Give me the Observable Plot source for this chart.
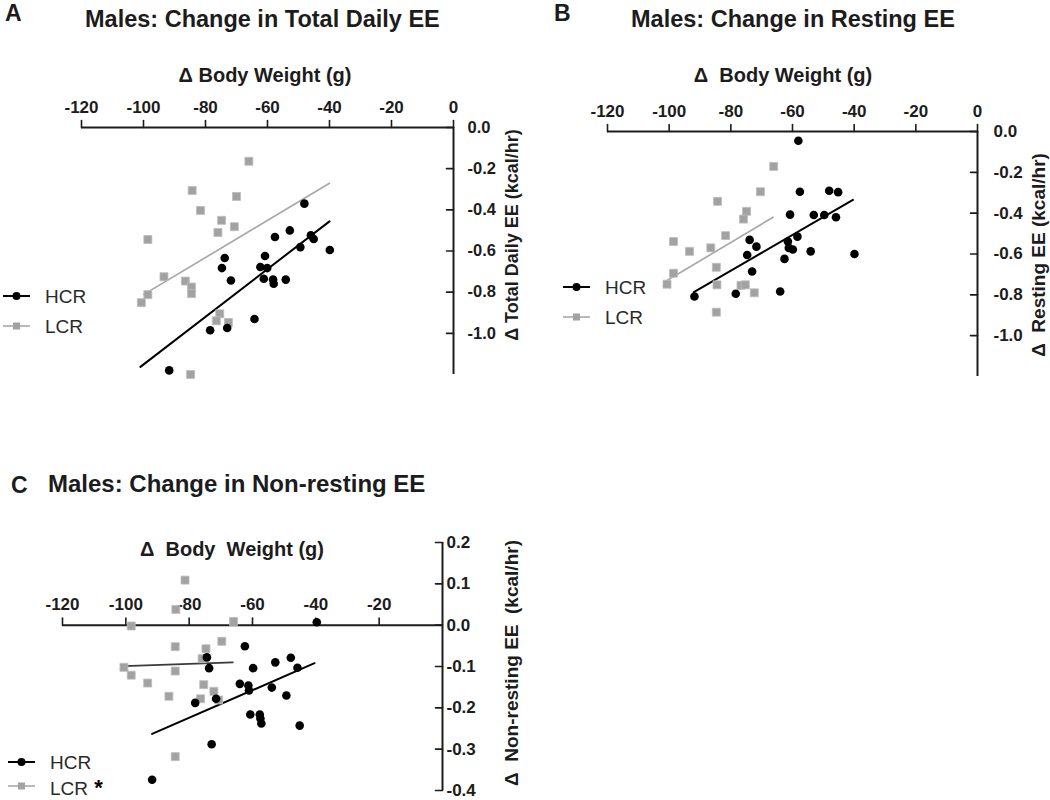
<!DOCTYPE html>
<html><head><meta charset="utf-8">
<script src="https://cdn.jsdelivr.net/npm/d3@7"></script>
<script src="https://cdn.jsdelivr.net/npm/@observablehq/plot@0.6"></script>
<style>
body{margin:0;background:#fff;}
#root{position:relative;width:1050px;height:800px;overflow:hidden;font-family:"Liberation Sans",Arial,sans-serif;color:#1a1a1a;}
.abs{position:absolute;white-space:pre;line-height:1;}
.plot{position:absolute;}
</style></head><body><div id="root"></div>
<script>
// ---------- data ----------
const groups = ["HCR", "LCR"];
const xTicks = [-120, -100, -80, -60, -40, -20, 0];
const xTicksC = [-120, -100, -80, -60, -40, -20];
const yTicksAB = [0, -0.2, -0.4, -0.6, -0.8, -1.0];
const yTicksC = [0.2, 0.1, 0, -0.1, -0.2, -0.3, -0.4];

// Panel A: change in total daily EE
const aHcrX = [-48.1,-52.8,-57.6,-46.0,-45.1,-49.4,-39.9,-73.8,-60.8,-74.7,-62.3,-60.1,-71.8,-61.2,-58.2,-58.0,-54.1,-64.2,-78.5,-73.0,-91.7];
const aHcrY = [-0.370,-0.500,-0.532,-0.524,-0.542,-0.581,-0.595,-0.634,-0.624,-0.683,-0.678,-0.683,-0.743,-0.735,-0.739,-0.759,-0.739,-0.930,-0.985,-0.974,-1.180];
const aLcrX = [-66.0,-84.3,-70.0,-81.6,-74.8,-70.7,-76.0,-98.6,-93.4,-86.5,-84.5,-84.5,-98.6,-100.7,-75.4,-76.5,-72.6,-84.8];
const aLcrY = [-0.164,-0.306,-0.335,-0.403,-0.451,-0.482,-0.510,-0.544,-0.725,-0.746,-0.775,-0.807,-0.812,-0.851,-0.905,-0.939,-0.947,-1.200];
const aHcrFitX = [-101.0, -40.0];
const aHcrFitY = [-1.163, -0.456];
const aLcrFitX = [-100.0, -40.0];
const aLcrFitY = [-0.812, -0.271];

// Panel B: change in resting EE
const bHcrX = [-58.1,-57.6,-48.1,-45.2,-60.8,-53.1,-49.7,-45.9,-58.4,-73.9,-71.7,-61.5,-61.2,-59.9,-54.1,-39.9,-74.7,-62.6,-73.1,-64.0,-78.4,-91.8];
const bHcrY = [-0.045,-0.295,-0.290,-0.297,-0.407,-0.409,-0.409,-0.420,-0.515,-0.531,-0.564,-0.539,-0.570,-0.578,-0.587,-0.600,-0.605,-0.624,-0.686,-0.784,-0.795,-0.808];
const bLcrX = [-66.1,-70.4,-84.3,-74.9,-75.9,-81.7,-98.6,-93.4,-86.5,-84.7,-98.6,-100.7,-84.5,-76.7,-75.3,-72.4,-84.7];
const bLcrY = [-0.171,-0.295,-0.342,-0.391,-0.429,-0.510,-0.539,-0.587,-0.570,-0.665,-0.694,-0.748,-0.751,-0.754,-0.751,-0.790,-0.885];
const bHcrFitX = [-92.0, -40.4];
const bHcrFitY = [-0.787, -0.335];
const bLcrFitX = [-100.7, -66.3];
const bLcrFitY = [-0.730, -0.420];

// Panel C: change in non-resting EE
const cHcrX = [-39.7,-62.4,-47.9,-52.8,-45.8,-74.4,-73.7,-59.8,-64.0,-61.3,-61.1,-53.9,-49.3,-78.1,-71.5,-60.7,-57.7,-57.5,-57.2,-45.1,-72.9,-91.7];
const cHcrY = [0.007,-0.051,-0.079,-0.090,-0.103,-0.078,-0.104,-0.104,-0.142,-0.146,-0.158,-0.151,-0.170,-0.188,-0.178,-0.216,-0.216,-0.226,-0.238,-0.243,-0.288,-0.374];
const cLcrX = [-81.3,-84.2,-98.3,-66.0,-69.7,-84.4,-74.7,-75.9,-100.6,-98.3,-84.4,-93.1,-75.4,-72.2,-86.4,-76.4,-70.7,-84.4];
const cLcrY = [0.109,0.038,-0.002,0.009,-0.039,-0.052,-0.057,-0.081,-0.102,-0.121,-0.111,-0.140,-0.144,-0.160,-0.172,-0.178,-0.181,-0.318];
const cHcrFitX = [-91.7, -40.4];
const cHcrFitY = [-0.263, -0.092];
const cLcrFitX = [-100.6, -66.2];
const cLcrFitY = [-0.099, -0.090];

// ---------- styling ----------
const ink = "#1c1c1c";
const hcrColor = "#000000";
const lcrColor = "#a2a2a2";
const font = '"Liberation Sans", Arial, sans-serif';
const tickShape = {draw(context, l) { context.moveTo(0, 0); context.lineTo(0, -l); }};

function zip(xs, ys, group) { return xs.map((x, i) => ({x, y: ys[i], group})); }

function panel(cfg) {
  const hcr = zip(cfg.hx, cfg.hy, groups[0]);
  const lcr = zip(cfg.lx, cfg.ly, groups[1]);
  const hFit = zip(cfg.fhx, cfg.fhy, groups[0]);
  const lFit = zip(cfg.flx, cfg.fly, groups[1]);
  return Plot.plot({
    width: cfg.w, height: cfg.h,
    marginLeft: cfg.ml, marginRight: cfg.mr, marginTop: cfg.mt, marginBottom: cfg.mb,
    x: {domain: [-120, 0], axis: null},
    y: {domain: cfg.yDomain, axis: null},
    style: {background: "transparent", overflow: "visible", fontFamily: font, color: ink},
    marks: [
      Plot.ruleY([0], {stroke: ink, strokeWidth: 2}),
      Plot.ruleX([0], {stroke: ink, strokeWidth: 2}),
      Plot.vector(cfg.xTicks, {x: d => d, y: 0, length: 7, rotate: 0, anchor: "start", shape: tickShape, stroke: ink, strokeWidth: 1.6}),
      Plot.vector(cfg.yTicks, {x: 0, y: d => d, length: 7, rotate: -90, anchor: "start", shape: tickShape, stroke: ink, strokeWidth: 1.6}),
      Plot.text(cfg.xTicks, {x: d => d, y: 0, text: d => String(d), lineAnchor: "bottom", dy: cfg.xDy, fontSize: 17, fontWeight: "bold", fill: ink}),
      Plot.text(cfg.yTicks, {x: 0, y: d => d, text: d => d.toFixed(1), textAnchor: "start", lineAnchor: "middle", dx: cfg.yDx, fontSize: cfg.yFs, fontWeight: "bold", fill: ink}),
      Plot.line(lFit, {x: "x", y: "y", stroke: cfg.lcrLine, strokeWidth: 1.7}),
      Plot.line(hFit, {x: "x", y: "y", stroke: hcrColor, strokeWidth: 2}),
      Plot.dot(lcr, {x: "x", y: "y", symbol: "square", r: 4.5, fill: lcrColor, stroke: "#bdbdbd", strokeWidth: 0.8}),
      Plot.dot(hcr, {x: "x", y: "y", r: 4.3, fill: hcrColor, stroke: "none"})
    ]
  });
}

const root = document.getElementById("root");
function place(node, left, top) {
  const d = document.createElement("div");
  d.className = "plot"; d.style.left = left + "px"; d.style.top = top + "px";
  d.appendChild(node); root.appendChild(d);
}
function label(text, left, baseline, size, opts = {}) {
  const d = document.createElement("div");
  d.className = "abs";
  d.textContent = text;
  d.style.fontSize = size + "px";
  d.style.fontWeight = opts.weight || "bold";
  d.style.color = opts.color || ink;
  d.style.left = left + "px";
  d.style.top = (baseline - 0.846 * size) + "px";
  if (opts.center) d.style.transform = "translateX(-50%)";
  root.appendChild(d);
  return d;
}
function vlabel(text, cx, cy, size) {
  const d = document.createElement("div");
  d.className = "abs";
  d.textContent = text;
  d.style.fontSize = size + "px";
  d.style.fontWeight = "bold";
  d.style.color = ink;
  d.style.left = cx + "px";
  d.style.top = cy + "px";
  d.style.transform = "translate(-50%,-50%) rotate(-90deg)";
  root.appendChild(d);
}
function legend(left, textLeft, cy, group, suffix) {
  const isH = group === groups[0];
  const ns = "http://www.w3.org/2000/svg";
  const s = document.createElementNS(ns, "svg");
  s.setAttribute("width", 30); s.setAttribute("height", 14);
  s.style.position = "absolute"; s.style.left = left + "px"; s.style.top = (cy - 7) + "px";
  s.innerHTML = isH
    ? `<line x1="0" y1="7" x2="27" y2="7" stroke="#000" stroke-width="2"/><circle cx="13.5" cy="7" r="4" fill="#000"/>`
    : `<line x1="0" y1="7" x2="27" y2="7" stroke="#a8a8a8" stroke-width="1.6"/><rect x="10" y="3.5" width="7" height="7" fill="#a2a2a2"/>`;
  root.appendChild(s);
  const t = label(group, textLeft, cy + 7, 19, {weight: "normal", color: "#2a2a2a"});
  if (suffix) {
    const sp = document.createElement("span");
    sp.textContent = suffix;
    sp.style.fontWeight = "bold"; sp.style.color = "#000"; sp.style.fontSize = "22px";
    t.appendChild(sp);
  }
}

// Panel A
place(panel({w: 540, h: 400, ml: 81, mr: 87, mt: 127, mb: 26, yDomain: [-1.2, 0],
  hx: aHcrX, hy: aHcrY, lx: aLcrX, ly: aLcrY, fhx: aHcrFitX, fhy: aHcrFitY, flx: aLcrFitX, fly: aLcrFitY,
  xTicks, yTicks: yTicksAB, xDy: -15, yDx: 14, yFs: 16.5, lcrLine: "#a8a8a8"}), 0, 0);
// Panel B
place(panel({w: 530, h: 400, ml: 87, mr: 73, mt: 131, mb: 24, yDomain: [-1.2, 0],
  hx: bHcrX, hy: bHcrY, lx: bLcrX, ly: bLcrY, fhx: bHcrFitX, fhy: bHcrFitY, flx: bLcrFitX, fly: bLcrFitY,
  xTicks, yTicks: yTicksAB, xDy: -15, yDx: 16, yFs: 17, lcrLine: "#a8a8a8"}), 520, 0);
// Panel C
place(panel({w: 540, h: 350, ml: 62, mr: 98, mt: 92, mb: 10, yDomain: [-0.4, 0.2],
  hx: cHcrX, hy: cHcrY, lx: cLcrX, ly: cLcrY, fhx: cHcrFitX, fhy: cHcrFitY, flx: cLcrFitX, fly: cLcrFitY,
  xTicks: xTicksC, yTicks: yTicksC, xDy: -15, yDx: 4, yFs: 17, lcrLine: "#3a3a3a"}), 0, 450);

// Titles and axis titles
label("A", 5, 21, 23);
label("Males: Change in Total Daily EE", 85, 28, 23.5);
label("\u0394 Body Weight (g)", 265, 82, 20, {center: true});
vlabel("\u0394 Total Daily EE (kcal/hr)", 512, 235, 18);

label("B", 554, 21, 23);
label("Males: Change in Resting EE", 631, 28, 23.5);
label("\u0394  Body Weight (g)", 783, 82, 20, {center: true});
vlabel("\u0394  Resting EE (kcal/hr)", 1038, 255, 19);

label("C", 11, 493, 23);
label("Males: Change in Non-resting EE", 48, 492, 24);
label("\u0394  Body  Weight (g)", 232, 556, 20, {center: true});
vlabel("\u0394  Non-resting EE  (kcal/hr)", 511, 663, 19);

// Legends
legend(3, 45, 296, "HCR");
legend(3, 45, 326, "LCR");
legend(563, 605, 287, "HCR");
legend(563, 605, 317, "LCR");
legend(8, 50, 762, "HCR");
legend(8, 50, 786, "LCR", " *");
</script></body></html>
